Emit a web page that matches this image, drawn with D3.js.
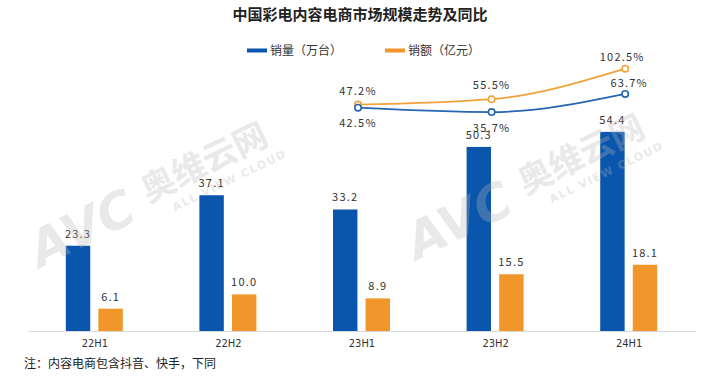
<html><head><meta charset="utf-8">
    <style>
        body {
            margin: 0;
            background: white;
            font-family: "Noto Sans CJK SC", "Noto Sans", sans-serif;
        }
        svg { display: block; }
    </style>
</head>
<script src="https://cdn.jsdelivr.net/npm/d3@7"></script>
<body>
    <svg id="chart"></svg>
</body>
<script>
    // data
    let categories = ["22H1", "22H2", "23H1", "23H2", "24H1"]
    let volume = [23.3, 37.1, 33.2, 50.3, 54.4]      // 销量（万台）
    let revenue = [6.1, 10.0, 8.9, 15.5, 18.1]       // 销额（亿元）
    let lineCats = ["23H1", "23H2", "24H1"]
    let volumeYoY = [42.5, 35.7, 63.7]
    let revenueYoY = [47.2, 55.5, 102.5]
    let seriesNames = ["销量（万台）", "销额（亿元）"]

    let blue = "#0b56ad", orange = "#f0962a"
    let blueLine = "#2566b2", orangeLine = "#f2a23a"

    function drawChart() {
        let width = 720, height = 376
        let svg = d3.select("#chart").attr("width", width).attr("height", height)

        let x = d3.scaleBand().domain(categories).range([28, 696])
        let sub = d3.scaleBand().domain(["v", "r"]).range([-29, 28]).paddingInner(0.25)
        let yBar = d3.scaleLinear().domain([0, 60]).range([331, 111.4])
        let yLine = d3.scaleLinear().domain([0, 100]).range([135.3, 70.3])
        let cx = c => x(c) + x.bandwidth() / 2

        // title
        svg.append("text")
            .attr("x", 360).attr("y", 20)
            .attr("text-anchor", "middle")
            .style("font-size", "15px").style("font-weight", "bold")
            .attr("fill", "#222")
            .text("中国彩电内容电商市场规模走势及同比")

        // legend
        let legend = svg.append("g")
        let lx = [247, 385]
        seriesNames.forEach((name, i) => {
            legend.append("rect").attr("x", lx[i]).attr("y", 48.5).attr("width", 20).attr("height", 4)
                .attr("fill", i == 0 ? blue : orange)
            legend.append("text").attr("x", lx[i] + 23).attr("y", 55)
                .style("font-size", "12px").attr("fill", "#333").text(name)
        })

        // axis line
        let axis = d3.axisBottom(x).tickSize(0).tickPadding(8)
        let gx = svg.append("g").attr("transform", "translate(0,331)").call(axis)
        gx.select(".domain").attr("stroke", "#d9d9d9").attr("stroke-width", 1.2)
        gx.selectAll("text")
            .style("font-family", "'Liberation Sans Narrow', 'DejaVu Sans Condensed', sans-serif")
            .style("font-size", "11px").attr("fill", "#333")

        let rows = categories.map((c, i) => ({c, v: volume[i], r: revenue[i]}))

        // bars
        let bars = svg.append("g")
        bars.selectAll(".bv").data(rows).enter().append("rect")
            .attr("x", d => cx(d.c) + sub("v")).attr("width", sub.bandwidth())
            .attr("y", d => yBar(d.v)).attr("height", d => yBar(0) - yBar(d.v))
            .attr("fill", blue)
        bars.selectAll(".br").data(rows).enter().append("rect")
            .attr("x", d => cx(d.c) + sub("r")).attr("width", sub.bandwidth())
            .attr("y", d => yBar(d.r)).attr("height", d => yBar(0) - yBar(d.r))
            .attr("fill", orange)

        let labelStyle = sel => sel.attr("text-anchor", "middle")
            .style("font-size", "11px").style("letter-spacing", "1.2px").attr("fill", "#333")

        bars.selectAll(".lv").data(rows).enter().append("text")
            .attr("x", d => cx(d.c) + sub("v") + sub.bandwidth() / 2)
            .attr("y", d => yBar(d.v) - 8)
            .text(d => d.v.toFixed(1)).call(labelStyle)
        bars.selectAll(".lr").data(rows).enter().append("text")
            .attr("x", d => cx(d.c) + sub("r") + sub.bandwidth() / 2)
            .attr("y", d => yBar(d.r) - 8)
            .text(d => d.r.toFixed(1)).call(labelStyle)

        // watermark (faint, two copies)
        let wm = [[40, 268], [417, 260]]
        wm.forEach(p => {
            let g = svg.append("g").attr("transform", `translate(${p[0]},${p[1]}) rotate(-26)`)
                .attr("fill", "#b8b8b8").attr("opacity", 0.3)
            g.append("text").attr("x", 0).attr("y", 0)
                .style("font-family", "'DejaVu Sans'").style("font-size", "50px").style("font-weight", "bold")
                .style("font-style", "italic").text("AVC")
            g.append("text").attr("x", 126).attr("y", -11)
                .style("font-size", "34px").style("font-weight", "bold").text("奥维云网")
            g.append("text").attr("x", 146).attr("y", 8)
                .style("font-family", "'DejaVu Sans'").style("font-size", "11px").style("font-weight", "bold")
                .style("letter-spacing", "1.5px").text("ALL VIEW CLOUD")
        })

        // yoy lines
        let lx2 = c => cx(c) - 4
        let line = d3.line().curve(d3.curveMonotoneX)
        let lineSets = [
            {vals: revenueYoY, color: orangeLine, dy: [-10, -10, -8], dx: [0, 0, -3]},
            {vals: volumeYoY, color: blueLine, dy: [19, 20, -7], dx: [0, 0, 4]}
        ]
        let lg = svg.append("g")
        lineSets.forEach(s => {
            let pts = lineCats.map((c, i) => [lx2(c), yLine(s.vals[i])])
            lg.append("path").attr("d", line(pts)).attr("fill", "none")
                .attr("stroke", s.color).attr("stroke-width", 1.8)
            lg.selectAll(null).data(pts).enter().append("circle")
                .attr("cx", d => d[0]).attr("cy", d => d[1]).attr("r", 3.2)
                .attr("fill", "white").attr("stroke", s.color).attr("stroke-width", 1.6)
            lg.selectAll(null).data(pts).enter().append("text")
                .attr("x", (d, i) => d[0] + s.dx[i]).attr("y", (d, i) => d[1] + s.dy[i])
                .text((d, i) => s.vals[i].toFixed(1) + "%").call(labelStyle)
        })

        // footnote
        svg.append("text").attr("x", 24).attr("y", 368)
            .style("font-size", "12px").attr("fill", "#222")
            .text("注：内容电商包含抖音、快手，下同")
    }

    drawChart()
</script>
</html>
